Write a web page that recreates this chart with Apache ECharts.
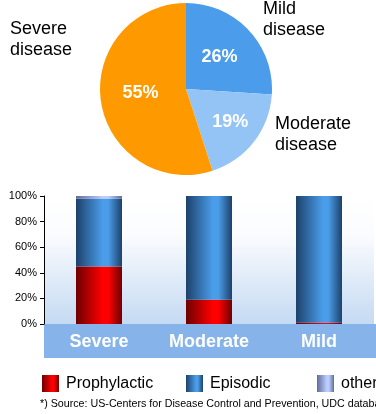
<!DOCTYPE html>
<html>
<head>
<meta charset="utf-8">
<script src="https://cdn.jsdelivr.net/npm/echarts@6/dist/echarts.min.js"></script>
<style>
  html, body { margin: 0; padding: 0; background: #fff; }
  #chart { width: 376px; height: 414px; }
</style>
</head>
<body>
<div id="chart"></div>
<script>
// Share of patients by disease severity (pie)
const severityNames = ['Mild\ndisease', 'Moderate\ndisease', 'Severe\ndisease'];
const severityShares = [26, 19, 55];
const severityColors = ['#4b9deb', '#93c4f5', '#ff9900'];

// Treatment regimen by severity (stacked 100% bars)
const categories = ['Severe', 'Moderate', 'Mild'];
const prophylactic = [45, 19, 1];
const episodic = [53, 81, 99];
const other = [2, 0, 0];
const yTicks = [0, 20, 40, 60, 80, 100];

const footnote = '*) Source: US-Centers for Disease Control and Prevention, UDC database';

const FONT = '"Liberation Sans", Arial, sans-serif';

// Horizontal "cylinder" shading for a bar
function cylinder(edge, mid) {
  return new echarts.graphic.LinearGradient(0, 0, 1, 0, [
    { offset: 0, color: edge },
    { offset: 0.58, color: mid },
    { offset: 0.7, color: mid },
    { offset: 1, color: edge }
  ]);
}

// Name label placement beside the pie
const nameSpots = {
  'Mild\ndisease': { x: 263, y: -1 },
  'Moderate\ndisease': { x: 275, y: 114 },
  'Severe\ndisease': { x: 10, y: 19 }
};

const pieData = severityNames.map((n, i) => ({
  name: n, value: severityShares[i], itemStyle: { color: severityColors[i] }
}));

const chart = echarts.init(document.getElementById('chart'), null, { renderer: 'canvas' });

chart.setOption({
  animation: false,
  textStyle: { fontFamily: FONT },
  title: {
    text: footnote,
    left: 40,
    top: 399,
    padding: 0,
    textStyle: { fontSize: 10.7, fontWeight: 'normal', color: '#000', fontFamily: FONT }
  },
  legend: [
    { data: ['Prophylactic'], left: 42, top: 375 },
    { data: ['Episodic'], left: 186, top: 375 },
    { data: ['other'], left: 317, top: 375 }
  ].map(l => Object.assign({
    itemWidth: 17, itemHeight: 17, itemGap: 0, icon: 'rect', padding: 0,
    textStyle: { fontSize: 16, color: '#000', fontFamily: FONT, padding: [0, 0, 0, 2] }
  }, l)),
  grid: {
    left: 44, right: 2, top: 196, bottom: 90,
    show: true, borderWidth: 0,
    backgroundColor: new echarts.graphic.LinearGradient(0, 0, 0, 1, [
      { offset: 0, color: '#ffffff' },
      { offset: 0.3, color: '#fbfcfe' },
      { offset: 1, color: '#c5daf3' }
    ])
  },
  graphic: [{
    type: 'rect', z: 1,
    shape: { x: 44, y: 324, width: 332, height: 34 },
    style: { fill: '#86b3ea' }
  }],
  xAxis: {
    type: 'category', data: categories, z: 10,
    axisLine: { show: false }, axisTick: { show: false },
    axisLabel: {
      margin: 9, color: '#fff', fontSize: 18, fontWeight: 'bold', fontFamily: FONT
    }
  },
  yAxis: {
    type: 'value', min: 0, max: 100, interval: 20, z: 10,
    axisLine: { show: true, lineStyle: { color: '#000', width: 1 } },
    axisTick: { show: true, length: 4, lineStyle: { color: '#000' } },
    splitLine: { show: false },
    axisLabel: {
      margin: 7, color: '#000', fontSize: 11, fontFamily: FONT,
      formatter: v => yTicks.includes(v) ? v + '%' : ''
    }
  },
  series: [
    {
      type: 'pie', radius: 86, center: [186, 89], startAngle: 90, clockwise: true,
      data: pieData,
      itemStyle: { borderColor: '#fff', borderWidth: 1.5 },
      label: {
        position: 'inside', formatter: '{c}%', color: '#fff',
        fontSize: 18, fontWeight: 'bold', fontFamily: FONT
      },
      labelLine: { show: false },
      labelLayout: p => p.text === '19%' ? { dx: 8, dy: 5 } : (p.text === '55%' ? { dy: -3 } : {}),
      emphasis: { disabled: true }
    },
    {
      type: 'pie', radius: 86, center: [186, 89], startAngle: 90, clockwise: true,
      data: pieData, silent: true,
      itemStyle: { color: 'transparent', borderWidth: 0 },
      label: {
        show: true, position: 'inside', formatter: '{b}', overflow: 'none',
        color: '#000', fontSize: 18, lineHeight: 21, fontFamily: FONT, align: 'left'
      },
      labelLine: { show: false },
      labelLayout: p => {
        const s = nameSpots[p.text] || {};
        return { x: s.x, y: s.y, align: 'left', verticalAlign: 'top' };
      },
      emphasis: { disabled: true }
    },
    {
      name: 'Prophylactic', type: 'bar', stack: 'all', barWidth: 46, z: 5,
      data: prophylactic,
      itemStyle: { color: cylinder('#6e0000', '#ff0000') }
    },
    {
      name: 'Episodic', type: 'bar', stack: 'all', barWidth: 46, z: 5,
      data: episodic,
      itemStyle: { color: cylinder('#1d416b', '#4a9de9') }
    },
    {
      name: 'other', type: 'bar', stack: 'all', barWidth: 46, z: 5,
      data: other,
      itemStyle: { color: cylinder('#616c98', '#bccdff') }
    }
  ]
});
</script>
</body>
</html>
